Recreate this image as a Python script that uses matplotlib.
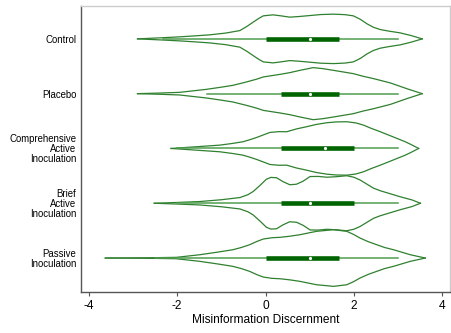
import matplotlib
matplotlib.use("Agg")
from matplotlib import pyplot as plt
import numpy as np

plt.rcParams['font.family'] = ['Liberation Sans', 'DejaVu Sans']
plt.rcParams['axes.unicode_minus'] = False

groups = ["Control", "Placebo", "Comprehensive\nActive\nInoculation",
          "Brief\nActive\nInoculation", "Passive\nInoculation"]

# box plot summaries: lower whisker, q1, median, q3, upper whisker
whisk_lo = [-2.33, -1.33, -2.0, -2.0, -2.5]
q1 = [0.0, 0.35, 0.35, 0.35, 0.0]
median = [1.0, 1.0, 1.35, 1.0, 1.0]
q3 = [1.66, 1.66, 2.0, 2.0, 1.66]
whisk_hi = [3.0, 3.0, 3.0, 3.0, 3.0]

# density outline (x position, half width in relative density units)
ctrl_x = [-2.90, -2.40, -1.95, -1.60, -1.27, -0.90, -0.58, -0.42, -0.28, -0.15, -0.05, 0.17, 0.35,
          0.55, 0.75, 0.93, 1.25, 1.54, 1.80, 1.99, 2.15, 2.30, 2.45, 2.60, 2.80, 3.05, 3.30, 3.55]
ctrl_d = [0.0, 1.0, 2.0, 3.0, 4.0, 5.8, 8.3, 12.5, 16.7, 20.5, 23.0, 24.0, 23.0,
          21.7, 22.3, 23.0, 24.3, 24.7, 24.2, 23.0, 19.5, 15.0, 11.5, 9.3, 7.7, 6.0, 3.3, 0.0]

plac_x = [-2.90, -2.40, -1.95, -1.34, -1.00, -0.74, -0.43, -0.20, -0.05, 0.33, 0.55,
          0.78, 1.08, 1.30, 1.54, 1.99, 2.20, 2.45, 2.83, 3.20, 3.55]
plac_d = [0.0, 0.6, 1.3, 4.3, 6.5, 8.3, 11.7, 14.5, 16.7, 19.3, 21.0,
          23.3, 26.0, 25.0, 23.3, 20.0, 17.5, 15.0, 10.7, 5.0, 0.0]

comp_x = [-2.14, -1.57, -1.04, -0.75, -0.51, -0.35, -0.20, 0.10, 0.30, 0.48, 0.70, 0.93, 1.15,
          1.39, 1.60, 1.84, 2.05, 2.22, 2.40, 2.60, 2.80, 2.98, 3.15, 3.28, 3.47]
comp_d = [0.0, 1.7, 3.3, 5.0, 6.7, 8.8, 11.0, 16.0, 16.8, 16.7, 19.5, 21.7, 24.0,
          25.7, 26.5, 26.7, 25.5, 23.3, 20.0, 16.7, 13.2, 10.0, 7.0, 4.3, 0.0]

brief_x = [-2.52, -2.00, -1.49, -1.00, -0.58, -0.40, -0.28, -0.12, 0.02, 0.12, 0.25, 0.40, 0.55,
           0.70, 0.85, 1.01, 1.20, 1.39, 1.60, 1.84, 2.00, 2.14, 2.30, 2.45, 2.60, 2.75, 3.05, 3.32, 3.51]
brief_d = [0.0, 0.8, 1.7, 3.5, 5.7, 8.5, 11.7, 18.0, 24.0, 25.8, 25.5, 21.5, 18.5,
           19.0, 22.0, 26.7, 26.8, 26.0, 26.5, 27.5, 26.0, 23.3, 19.0, 15.0, 12.5, 10.5, 6.5, 3.3, 0.0]

pass_x = [-3.63, -2.60, -2.02, -1.49, -1.10, -0.74, -0.55, -0.36, -0.20, -0.05, 0.15, 0.33, 0.55,
          0.78, 1.00, 1.16, 1.54, 1.84, 2.00, 2.14, 2.33, 2.52, 2.70, 2.90, 3.28, 3.62]
pass_d = [0.0, 0.3, 0.7, 3.3, 5.8, 8.3, 10.5, 13.3, 16.5, 19.0, 20.3, 20.7, 21.8,
          23.3, 25.3, 26.7, 28.3, 26.7, 23.5, 20.0, 16.3, 13.3, 10.5, 8.3, 3.3, 0.0]

shapes = [(ctrl_x, ctrl_d), (plac_x, plac_d), (comp_x, comp_d),
          (brief_x, brief_d), (pass_x, pass_d)]

dark = '#006400'
outline = '#2f802f'
whisker = '#4f9c4f'
scale = 1 / 54.75

fig = plt.figure(figsize=(4.51, 3.33), dpi=100)
ax = fig.add_axes([0.1796, 0.1231, 0.8182, 0.8589])

for i, (xs, ds) in enumerate(shapes):
    pos = i + 1
    xs = np.array(xs)
    w = np.array(ds) * scale
    ax.plot(xs, pos - w, color=outline, lw=0.9, solid_joinstyle='round')
    ax.plot(xs, pos + w, color=outline, lw=0.9, solid_joinstyle='round')
    ax.plot([whisk_lo[i], whisk_hi[i]], [pos, pos], color=whisker, lw=1.1)
    ax.plot([q1[i], q3[i]], [pos, pos], color=dark, lw=3.3, solid_capstyle='butt')
    ax.plot(median[i], pos, 'o', color='white', ms=2.3, mew=0)

ax.set_xlim(-4.18, 4.18)
ax.set_ylim(5.62, 0.40)
ax.set_xticks([-4, -2, 0, 2, 4])
ax.set_yticks(range(1, 6))
ax.set_yticklabels(groups, fontsize=6.9, linespacing=1.0)
ax.tick_params(axis='y', length=0, pad=3.5)
ax.tick_params(axis='x', labelsize=8.6, length=3, width=0.8, color='#555555', pad=3)
ax.set_xlabel("Misinformation Discernment", fontsize=8.6, labelpad=1)

ax.spines['left'].set_color('#555555')
ax.spines['bottom'].set_color('#555555')
ax.spines['top'].set_color('#cccccc')
ax.spines['right'].set_color('#cccccc')
for s in ax.spines.values():
    s.set_linewidth(1.0)

fig.savefig("out.png", dpi=100)
